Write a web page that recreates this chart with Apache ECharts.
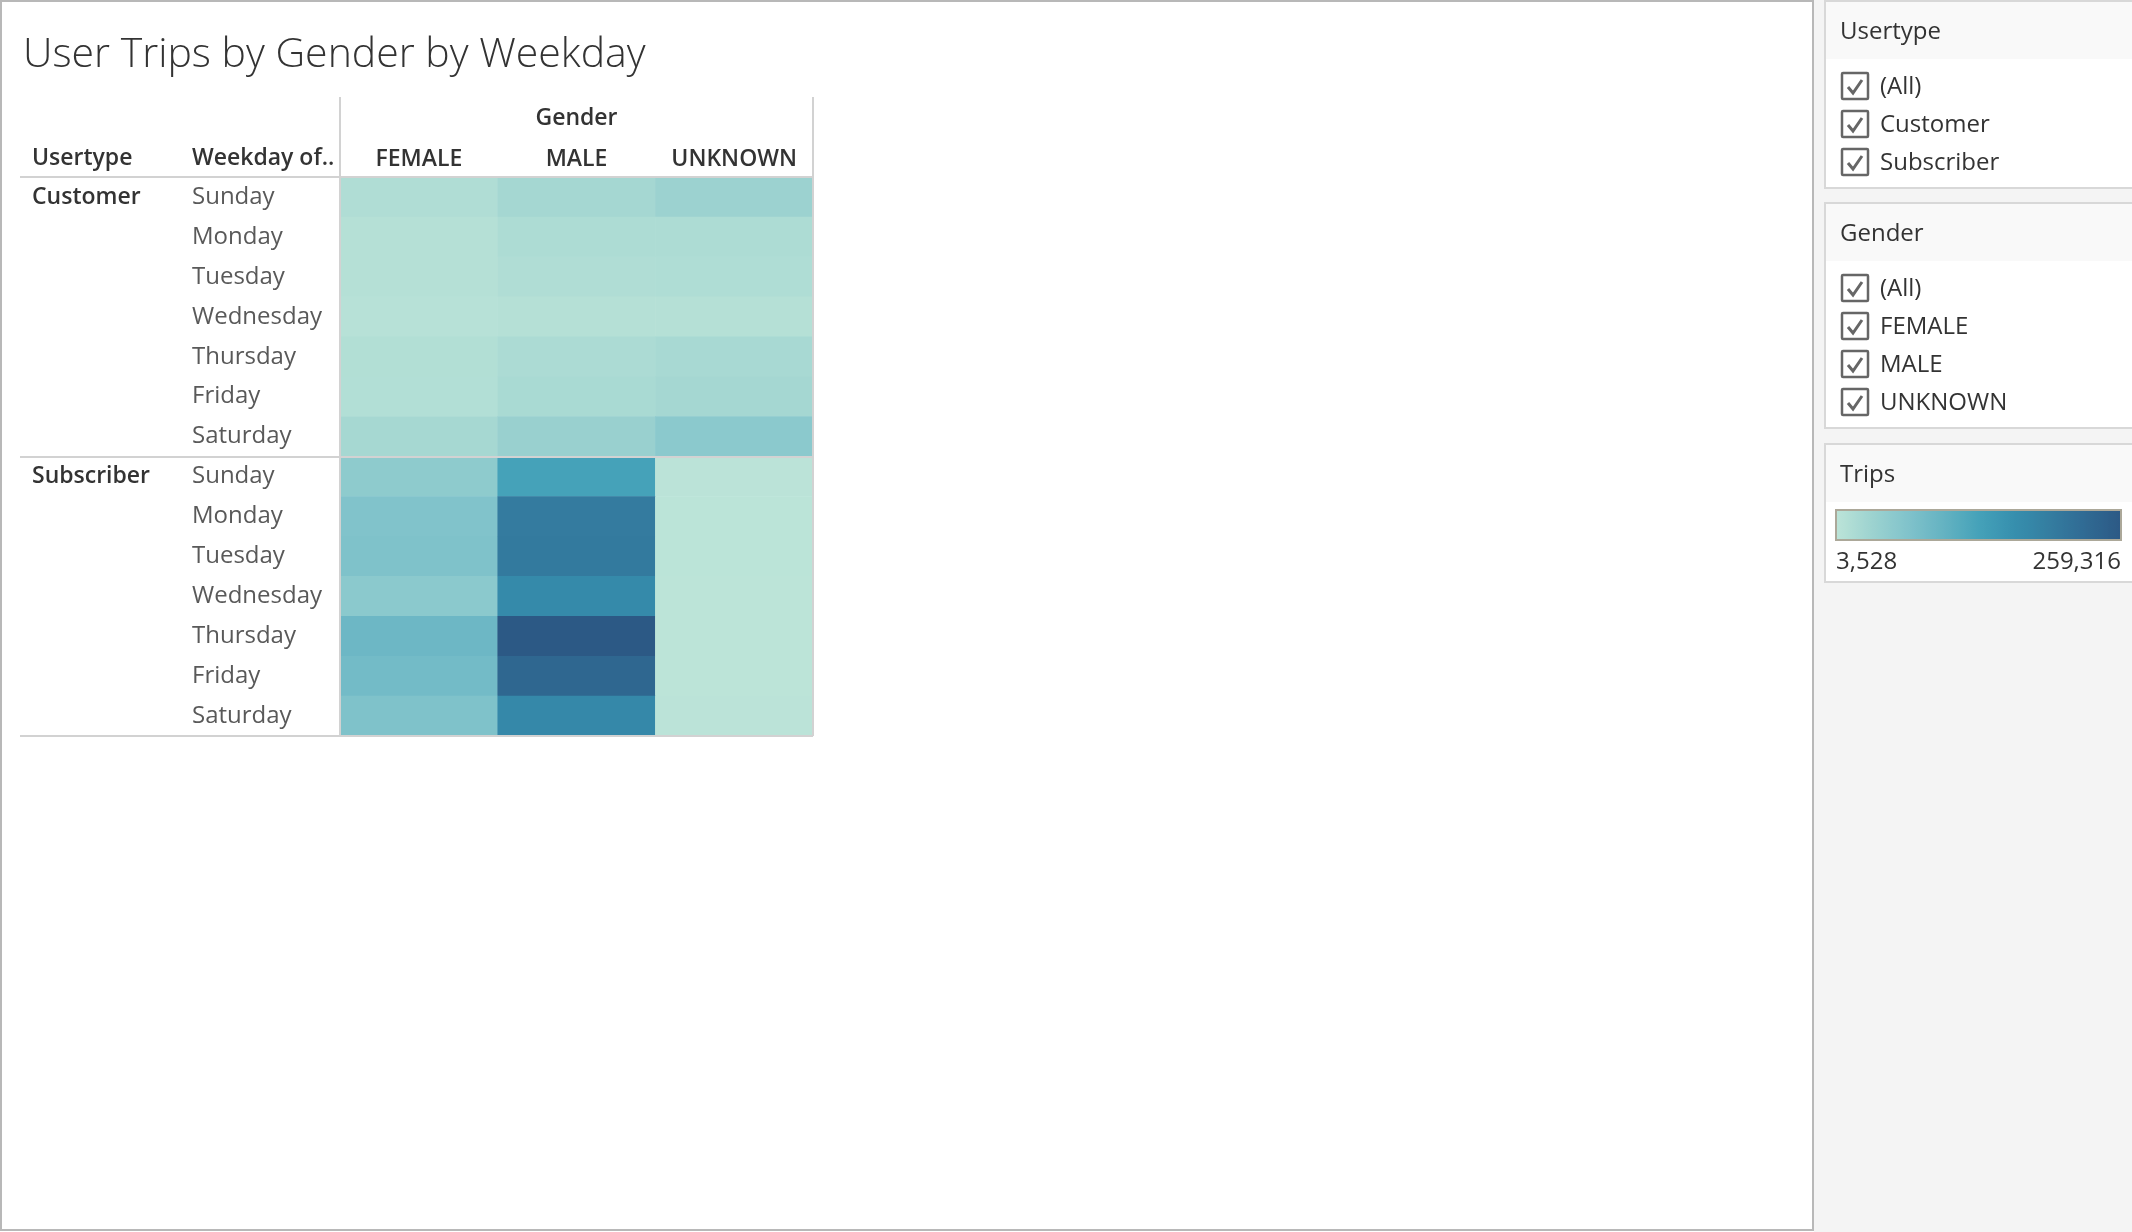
<!DOCTYPE html>
<html>
<head>
<meta charset="utf-8">
<title>User Trips by Gender by Weekday</title>
<script src="https://cdn.jsdelivr.net/npm/echarts@6/dist/echarts.min.js"></script>
<style>
html, body { margin: 0; padding: 0; background: #fff; }
#main { width: 2132px; height: 1232px; }
</style>
</head>
<body>
<div id="main"></div>
<script>
// data (trips, Sunday..Saturday)
const genders = ['FEMALE', 'MALE', 'UNKNOWN'];
const weekdays = ['Sunday', 'Monday', 'Tuesday', 'Wednesday', 'Thursday', 'Friday', 'Saturday'];
const usertypes = ['Customer', 'Subscriber'];

const customerFemale = [15800, 10700, 10500, 8700, 13700, 13500, 26500];
const customerMale = [27300, 18900, 15800, 10800, 19900, 23000, 40600];
const customerUnknown = [36800, 19500, 16500, 11200, 24000, 27500, 56000];
const subscriberFemale = [52100, 67500, 70000, 56000, 90500, 83000, 70000];
const subscriberMale = [131400, 198000, 200500, 172000, 259316, 233700, 175000];
const subscriberUnknown = [4800, 4300, 4200, 3900, 3528, 3700, 4600];

const tripsMin = 3528;
const tripsMax = 259316;

const usertypeFilter = ['(All)', 'Customer', 'Subscriber'];
const genderFilter = ['(All)', 'FEMALE', 'MALE', 'UNKNOWN'];

const palette = ['#bce4d8', '#9dd3d0', '#81c3cb', '#65b3c2', '#45a2b9', '#368fae', '#347da0', '#306a93', '#2c5985'];
const FONT = '"Open Sans", "Noto Sans", sans-serif';

// build the heatmap cells
const table = {
    Customer: [customerFemale, customerMale, customerUnknown],
    Subscriber: [subscriberFemale, subscriberMale, subscriberUnknown]
};
let rows = [];
let cells = [];
usertypes.forEach(function (u, ui) {
    weekdays.forEach(function (d, di) {
        rows.push(u + '|' + d);
        genders.forEach(function (g, gi) {
            cells.push([gi, ui * 7 + di, table[u][gi][di]]);
        });
    });
});

// right-hand filter cards
function card(y, h, title) {
    return [
        { type: 'rect', shape: { x: 1825, y: y, width: 330, height: h }, style: { fill: '#fff', stroke: '#d8d8d8', lineWidth: 2 } },
        { type: 'rect', shape: { x: 1826, y: y + 1, width: 328, height: 57 }, style: { fill: '#f9f9f9' } },
        { type: 'text', x: 1840, y: y + 31, style: { text: title, fontSize: 24, fontFamily: FONT, fill: '#333', verticalAlign: 'middle' } }
    ];
}
function checkItems(y0, items) {
    let out = [];
    items.forEach(function (label, i) {
        let cy = y0 + i * 38;
        out.push({ type: 'rect', shape: { x: 1842, y: cy - 13, width: 26, height: 26, r: 1 }, style: { fill: '#fff', stroke: '#666', lineWidth: 2.5 } });
        out.push({ type: 'polyline', shape: { points: [[1848, cy + 1], [1853, cy + 7], [1862, cy - 6]] }, style: { stroke: '#666', lineWidth: 3, fill: null } });
        out.push({ type: 'text', x: 1880, y: cy + 1, style: { text: label, fontSize: 24, fontFamily: FONT, fill: '#333', verticalAlign: 'middle' } });
    });
    return out;
}

function hline(x1, x2, y) {
    return { type: 'line', z: 10, shape: { x1: x1, y1: y, x2: x2, y2: y }, style: { stroke: '#d2d2d2', lineWidth: 2 } };
}
function vline(x, y1, y2) {
    return { type: 'line', z: 10, shape: { x1: x, y1: y1, x2: x, y2: y2 }, style: { stroke: '#d2d2d2', lineWidth: 2 } };
}

let graphics = [
    { type: 'rect', z: -1, shape: { x: 1814, y: 0, width: 318, height: 1232 }, style: { fill: '#f4f4f4' } },
    { type: 'rect', z: 10, shape: { x: 1, y: 1, width: 1812, height: 1229 }, style: { fill: null, stroke: '#b8b8b8', lineWidth: 2 } },
    { type: 'text', x: 23, y: 55, style: { text: 'User Trips by Gender by Weekday', fontSize: 41, fontWeight: 300, fontFamily: FONT, fill: '#333', verticalAlign: 'middle' } },
    { type: 'text', x: 32, y: 158, style: { text: 'Usertype', fontSize: 23, fontWeight: 600, fontFamily: FONT, fill: '#333', verticalAlign: 'middle' } },
    { type: 'text', x: 192, y: 158, style: { text: 'Weekday of..', fontSize: 23, fontWeight: 600, fontFamily: FONT, fill: '#333', verticalAlign: 'middle' } },
    hline(20, 813, 177),
    hline(20, 813, 457),
    hline(20, 813, 736),
    vline(340, 97, 736),
    vline(813, 97, 736)
];
graphics = graphics
    .concat(card(1, 187, 'Usertype'))
    .concat(checkItems(86, usertypeFilter))
    .concat(card(203, 225, 'Gender'))
    .concat(checkItems(288, genderFilter))
    .concat(card(444, 138, 'Trips'))
    .concat([
        { type: 'rect', z: 10, shape: { x: 1836, y: 510, width: 285, height: 30 }, style: { fill: null, stroke: '#aca899', lineWidth: 2 } },
        { type: 'text', x: 1836, y: 562, style: { text: tripsMin.toLocaleString('en-US'), fontSize: 24, fontFamily: FONT, fill: '#333', verticalAlign: 'middle' } },
        { type: 'text', x: 2121, y: 562, style: { text: tripsMax.toLocaleString('en-US'), fontSize: 24, fontFamily: FONT, fill: '#333', align: 'right', verticalAlign: 'middle' } }
    ]);

let myChart = echarts.init(document.getElementById('main'));
let option = {
    backgroundColor: '#fff',
    animation: false,
    textStyle: { fontFamily: FONT },
    grid: { left: 340, top: 177, width: 473, height: 559 },
    xAxis: {
        type: 'category',
        position: 'top',
        data: genders,
        name: 'Gender',
        nameLocation: 'middle',
        nameGap: 47,
        nameTextStyle: { fontSize: 23, fontWeight: 600, color: '#333' },
        axisLine: { show: false },
        axisTick: { show: false },
        splitLine: { show: false },
        axisLabel: { interval: 0, fontSize: 23, fontWeight: 600, color: '#333', margin: 18, verticalAlign: 'middle' }
    },
    yAxis: [
        {
            type: 'category',
            data: rows,
            inverse: true,
            axisLine: { show: false },
            axisTick: { show: false },
            splitLine: { show: false },
            axisLabel: {
                interval: 0,
                align: 'left',
                margin: 148,
                fontSize: 24,
                color: '#595959',
                padding: [9, 0, 0, 0],
                formatter: function (v) { return v.split('|')[1]; }
            }
        },
        {
            type: 'category',
            data: rows,
            inverse: true,
            position: 'left',
            offset: 0,
            axisLine: { show: false },
            axisTick: { show: false },
            splitLine: { show: false },
            axisLabel: {
                align: 'left',
                margin: 308,
                fontSize: 23,
                fontWeight: 600,
                color: '#333',
                interval: 0,
                formatter: function (v, i) { return i % 7 === 0 ? v.split('|')[0] : ''; }
            }
        }
    ],
    visualMap: {
        type: 'continuous',
        min: tripsMin,
        max: tripsMax,
        orient: 'horizontal',
        left: 1836,
        top: 510,
        itemWidth: 30,
        itemHeight: 285,
        padding: 0,
        calculable: false,
        hoverLink: false,
        text: null,
        inRange: { color: palette }
    },
    series: [{
        type: 'heatmap',
        data: cells,
        itemStyle: { borderWidth: 0 },
        emphasis: { disabled: true }
    }],
    graphic: graphics
};
myChart.setOption(option);
</script>
</body>
</html>
